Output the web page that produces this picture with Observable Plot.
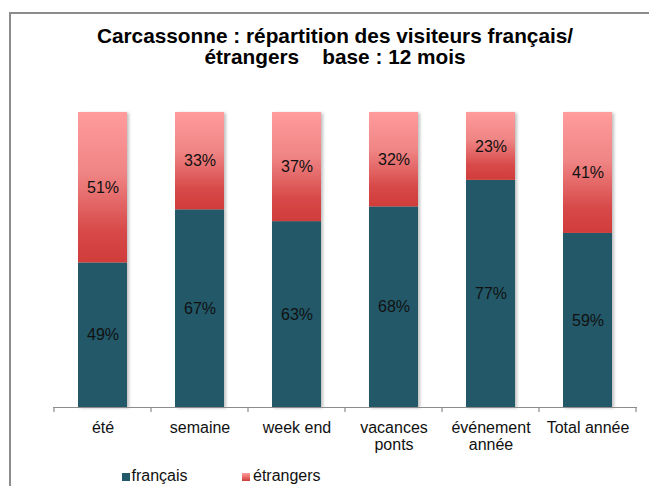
<!DOCTYPE html>
<html>
<head>
<meta charset="utf-8">
<script src="https://cdn.jsdelivr.net/npm/d3@7"></script>
<script src="https://cdn.jsdelivr.net/npm/@observablehq/plot@0.6"></script>
<style>
  html, body { margin: 0; padding: 0; background: #fff; }
  body { width: 649px; height: 486px; overflow: hidden; position: relative; font-family: "Liberation Sans", Arial, sans-serif; }
  #frame { position: absolute; left: 9px; top: 12px; width: 800px; height: 600px; border-top: 2px solid #8c8c8c; border-left: 2px solid #8c8c8c; }
  #title { position: absolute; left: 0; top: 25px; width: 670px; text-align: center; font-weight: bold; font-size: 20.8px; line-height: 21px; color: #000; }
  #chart { position: absolute; left: 0; top: 0; }
  .sw { position: absolute; width: 8.5px; height: 8.5px; top: 472.7px; }
  .lt { position: absolute; top: 468px; font-size: 16px; line-height: 16px; color: #111; white-space: nowrap; }
</style>
</head>
<body>
<div id="frame"></div>
<div id="title">Carcassonne : répartition des visiteurs français/<br>étrangers&nbsp;&nbsp;&nbsp; base : 12 mois</div>
<div id="chart"></div>
<div id="legend"></div>
<script>
const categories = ["été", "semaine", "week end", "vacances\nponts", "événement\nannée", "Total année"];
const series = ["français", "étrangers"];
const francais = [49, 67, 63, 68, 77, 59];
const etrangers = [51, 33, 37, 32, 23, 41];
const colors = ["#215968", "url(#gradEtr)"];

const data = [];
categories.forEach((c, i) => {
  data.push({cat: c, type: series[0], value: francais[i] / 100});
  data.push({cat: c, type: series[1], value: etrangers[i] / 100});
});

const plot = Plot.plot({
  width: 649,
  height: 486,
  marginTop: 112,
  marginBottom: 79,
  marginLeft: 53,
  marginRight: 12,
  style: {fontFamily: "'Liberation Sans', Arial, sans-serif", background: "transparent", overflow: "visible"},
  x: {domain: categories, paddingInner: 0.5, paddingOuter: 0.25, label: null},
  y: {domain: [0, 1], axis: null},
  color: {domain: series, range: colors},
  marks: [
    Plot.barY(data, Plot.stackY({x: "cat", y: "value", z: "type", fill: "type", order: series})),
    Plot.text(data, Plot.stackY({x: "cat", y: "value", z: "type", order: series,
      text: d => Math.round(d.value * 100) + "%", fontSize: 16, fill: "#111"})),
    Plot.ruleY([0], {stroke: "#8c8c8c", strokeWidth: 1.2}),
    Plot.axisX({tickSize: 0, tickPadding: 14, fontSize: 16, fill: "#111", lineHeight: 1.05, label: null})
  ]
});

const svg = d3.select(plot);
svg.insert("defs", ":first-child").html(
  '<linearGradient id="gradEtr" x1="0" y1="0" x2="0" y2="1">' +
  '<stop offset="0" stop-color="#ff9c9c"/>' +
  '<stop offset="0.4" stop-color="#f08585"/>' +
  '<stop offset="0.8" stop-color="#d74848"/>' +
  '<stop offset="1" stop-color="#d03d3a"/>' +
  '</linearGradient>' +
  '<filter id="shadow" x="-20%" y="-5%" width="150%" height="115%">' +
  '<feDropShadow dx="2" dy="1" stdDeviation="1.5" flood-color="#000" flood-opacity="0.25"/>' +
  '</filter>'
);
svg.selectAll("g[aria-label='bar']").attr("filter", "url(#shadow)");

// category boundary ticks from the band scale
const xs = plot.scale("x");
const ys = plot.scale("y");
const y0 = ys.apply(0);
const half = (xs.step - xs.bandwidth) / 2;
const bounds = categories.map(c => xs.apply(c) - half);
bounds.push(xs.apply(categories[categories.length - 1]) + xs.bandwidth + half);
svg.append("g").selectAll("line").data(bounds).join("line")
  .attr("x1", d => d).attr("x2", d => d)
  .attr("y1", y0).attr("y2", y0 + 5)
  .attr("stroke", "#8c8c8c").attr("stroke-width", 1.2);

document.getElementById("chart").appendChild(plot);

// legend
const legend = document.getElementById("legend");
const swatchX = [121.5, 241.5];
const textX = [131.5, 253];
series.forEach((s, i) => {
  const sw = document.createElement("div");
  sw.className = "sw";
  sw.style.left = swatchX[i] + "px";
  sw.style.background = i === 0 ? colors[0] : "linear-gradient(#ff9c9c, #d03d3a)";
  legend.appendChild(sw);
  const t = document.createElement("div");
  t.className = "lt";
  t.style.left = textX[i] + "px";
  t.textContent = s;
  legend.appendChild(t);
});
</script>
</body>
</html>
